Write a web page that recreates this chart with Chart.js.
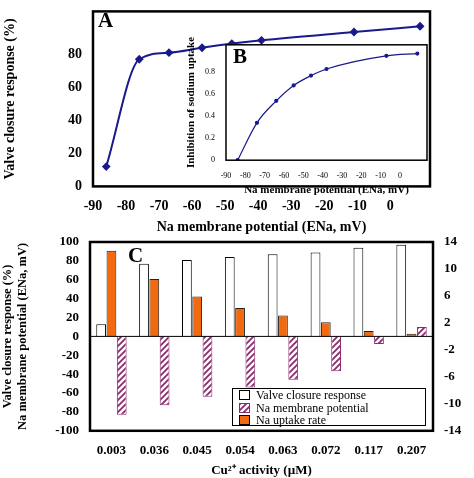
<!DOCTYPE html>
<html><head><meta charset="utf-8">
<script src="https://cdn.jsdelivr.net/npm/chart.js@4/dist/chart.umd.min.js"></script>
<style>
body{margin:0;background:#fff;width:474px;height:478px;position:relative;overflow:hidden;font-family:"Liberation Serif",serif}
canvas{position:absolute}
.lbl{position:absolute;font-weight:bold;font-size:21px}
#legend{position:absolute;left:232px;top:388px;width:194px;height:38px;border:1px solid #000;background:#fff;font-size:12px;line-height:12.5px;padding-left:6px;box-sizing:border-box}
#legend span{display:inline-block;width:9px;height:8px;border:1px solid #000;margin-right:6px;vertical-align:-1px}
</style></head><body>
<canvas id="chartA" style="left:0;top:0" width="474" height="236"></canvas>
<canvas id="chartC" style="left:0;top:230px" width="474" height="248"></canvas>
<canvas id="chartB" style="left:185px;top:37px" width="250" height="160"></canvas>
<div class="lbl" style="left:98px;top:8px">A</div>
<div class="lbl" style="left:233px;top:44px">B</div>
<div class="lbl" style="left:128px;top:243px">C</div>
<div id="legend">
<div><span></span>Valve closure response</div>
<div><span id="hatchKey"></span>Na membrane potential</div>
<div><span style="background:#f26a10"></span>Na uptake rate</div>
</div>
<script>
// panel A
const potentialA = [-86, -76, -67, -57, -48, -39, -11, 9];
const valveA = [12, 77, 81, 84, 86.5, 88.5, 93.5, 97];
// panel B
const potentialB = [-84, -74, -64, -55, -46, -38, -7, 9];
const inhibitionB = [0, 0.34, 0.54, 0.68, 0.77, 0.83, 0.95, 0.97];
// panel C
const copper = ["0.003", "0.036", "0.045", "0.054", "0.063", "0.072", "0.117", "0.207"];
const valveC = [13, 77, 81, 84, 87, 89, 94, 97];
const membraneC = [-83, -73, -64, -54, -46, -37, -8, 10];
const uptakeC = [12.7, 8.5, 5.9, 4.2, 3.1, 2.1, 0.8, 0.4];

const serif = "Liberation Serif";
const navy = "#1a1a8c";

const frame = {
  id: "frame",
  beforeDraw(chart, args, opts) {
    const a = chart.chartArea, c = chart.ctx;
    if (opts.fill) { c.fillStyle = "#fff"; c.fillRect(a.left, a.top, a.right - a.left, a.bottom - a.top); }
  },
  afterDraw(chart, args, opts) {
    const a = chart.chartArea, c = chart.ctx;
    c.save();
    c.strokeStyle = "#000";
    c.lineWidth = opts.width || 2.5;
    c.strokeRect(a.left, a.top, a.right - a.left, a.bottom - a.top);
    c.restore();
  }
};

function tens(scale) {
  scale.ticks = scale.ticks.filter(t => Math.abs(t.value % 10) < 1e-6);
}

new Chart(document.getElementById("chartA"), {
  type: "line",
  data: {
    datasets: [{
      data: potentialA.map((x, i) => ({ x: x, y: valveA[i] })),
      borderColor: navy, backgroundColor: navy, borderWidth: 2,
      pointRadius: 3, pointStyle: "rectRot", cubicInterpolationMode: "monotone"
    }]
  },
  options: {
    responsive: false, animation: false,
    layout: { padding: { top: 5, right: 44 } },
    plugins: { legend: { display: false }, tooltip: { enabled: false }, frame: { width: 2.5 } },
    scales: {
      x: {
        type: "linear", min: -90, max: 12, afterBuildTicks: tens,
        grid: { display: false }, border: { display: false },
        ticks: { stepSize: 10, autoSkip: false, maxRotation: 0, padding: 4, color: "#000", font: { family: serif, size: 14, weight: "bold" } },
        title: { display: true, text: "Na membrane potential (ENa, mV)", color: "#000", padding: 0, font: { family: serif, size: 14, weight: "bold" } }
      },
      y: {
        min: 0, max: 106, afterBuildTicks: tens, afterFit: s => { s.width = 93; },
        grid: { display: false }, border: { display: false },
        ticks: { stepSize: 20, autoSkip: false, color: "#000", font: { family: serif, size: 14, weight: "bold" } },
        title: { display: true, text: "Valve closure response (%)", color: "#000", padding: 2, font: { family: serif, size: 14, weight: "bold" } }
      }
    }
  },
  plugins: [frame]
});

new Chart(document.getElementById("chartB"), {
  type: "line",
  data: {
    datasets: [{
      data: potentialB.map((x, i) => ({ x: x, y: inhibitionB[i] })),
      borderColor: navy, backgroundColor: navy, borderWidth: 1.2,
      pointRadius: 1.5, cubicInterpolationMode: "monotone"
    }]
  },
  options: {
    responsive: false, animation: false,
    layout: { padding: { top: 5, right: 8 } },
    plugins: { legend: { display: false }, tooltip: { enabled: false }, frame: { width: 1.5, fill: true } },
    scales: {
      x: {
        type: "linear", min: -90, max: 14, afterBuildTicks: tens,
        grid: { display: false }, border: { display: false },
        ticks: { stepSize: 10, autoSkip: false, maxRotation: 0, color: "#000", font: { family: serif, size: 8 } },
        title: { display: true, text: "Na membrane potential (ENa, mV)", color: "#000", padding: 0, font: { family: serif, size: 11, weight: "bold" } }
      },
      y: {
        min: 0, max: 1.05, afterFit: s => { s.width = 41; },
        afterBuildTicks: s => { s.ticks = s.ticks.filter(t => t.value <= 1.0001); },
        grid: { display: false }, border: { display: false },
        ticks: { stepSize: 0.2, autoSkip: false, color: "#000", font: { family: serif, size: 8 }, callback: v => +v.toFixed(1) },
        title: { display: true, text: "Inhibition of sodium uptake", color: "#000", padding: 0, font: { family: serif, size: 11, weight: "bold" } }
      }
    }
  },
  plugins: [frame]
});

function hatch() {
  const p = document.createElement("canvas");
  p.width = 6; p.height = 6;
  const c = p.getContext("2d");
  c.fillStyle = "#fff"; c.fillRect(0, 0, 6, 6);
  c.strokeStyle = "#8b2a6b"; c.lineWidth = 1.8;
  c.beginPath();
  c.moveTo(0, 6); c.lineTo(6, 0);
  c.moveTo(-3, 3); c.lineTo(3, -3);
  c.moveTo(3, 9); c.lineTo(9, 3);
  c.stroke();
  return p;
}
const hatchCanvas = hatch();
const hatchPattern = document.getElementById("chartC").getContext("2d").createPattern(hatchCanvas, "repeat");
document.getElementById("hatchKey").style.background = "url(" + hatchCanvas.toDataURL() + ")";
document.getElementById("hatchKey").style.borderColor = "#8b2a6b";

const bold13 = { family: serif, size: 13, weight: "bold" };
new Chart(document.getElementById("chartC"), {
  type: "bar",
  data: {
    labels: copper,
    datasets: [
      { label: "Valve closure response", data: valveC, yAxisID: "y", backgroundColor: "#fff", borderColor: "#000", borderWidth: 1 },
      { label: "Na uptake rate", data: uptakeC, yAxisID: "y2", backgroundColor: "#f26a10", borderColor: "#222", borderWidth: 1 },
      { label: "Na membrane potential", data: membraneC, yAxisID: "y", backgroundColor: hatchPattern, borderColor: "#8b2a6b", borderWidth: 1 }
    ]
  },
  options: {
    responsive: false, animation: false,
    layout: { padding: { top: 12 } },
    datasets: { bar: { categoryPercentage: 0.72, barPercentage: 0.95 } },
    plugins: { legend: { display: false }, tooltip: { enabled: false }, frame: { width: 2.5 } },
    scales: {
      x: {
        grid: { display: false }, border: { display: false },
        ticks: { color: "#000", font: bold13, padding: 4, autoSkip: false, maxRotation: 0 },
        title: { display: true, text: "Cu²⁺ activity (µM)", color: "#000", padding: 0, font: bold13 }
      },
      y: {
        min: -100, max: 100, afterFit: s => { s.width = 90; },
        grid: { display: false }, border: { display: false },
        ticks: { stepSize: 20, autoSkip: false, color: "#000", font: bold13 },
        title: { display: true, text: ["Valve closure response (%)", "Na membrane potential (ENa, mV)"], color: "#000", padding: 0, font: { family: serif, size: 12.5, weight: "bold" } }
      },
      y2: {
        position: "right", min: -14, max: 14, afterFit: s => { s.width = 41; },
        grid: { display: false }, border: { display: false },
        ticks: { stepSize: 4, autoSkip: false, color: "#000", font: bold13 }
      }
    }
  },
  plugins: [frame, {
    id: "zeroLine",
    afterDatasetsDraw(chart) {
      const a = chart.chartArea, c = chart.ctx, y0 = chart.scales.y.getPixelForValue(0);
      c.save(); c.strokeStyle = "#000"; c.lineWidth = 1;
      c.beginPath(); c.moveTo(a.left, y0); c.lineTo(a.right, y0); c.stroke(); c.restore();
    }
  }]
});
</script>
</body></html>
